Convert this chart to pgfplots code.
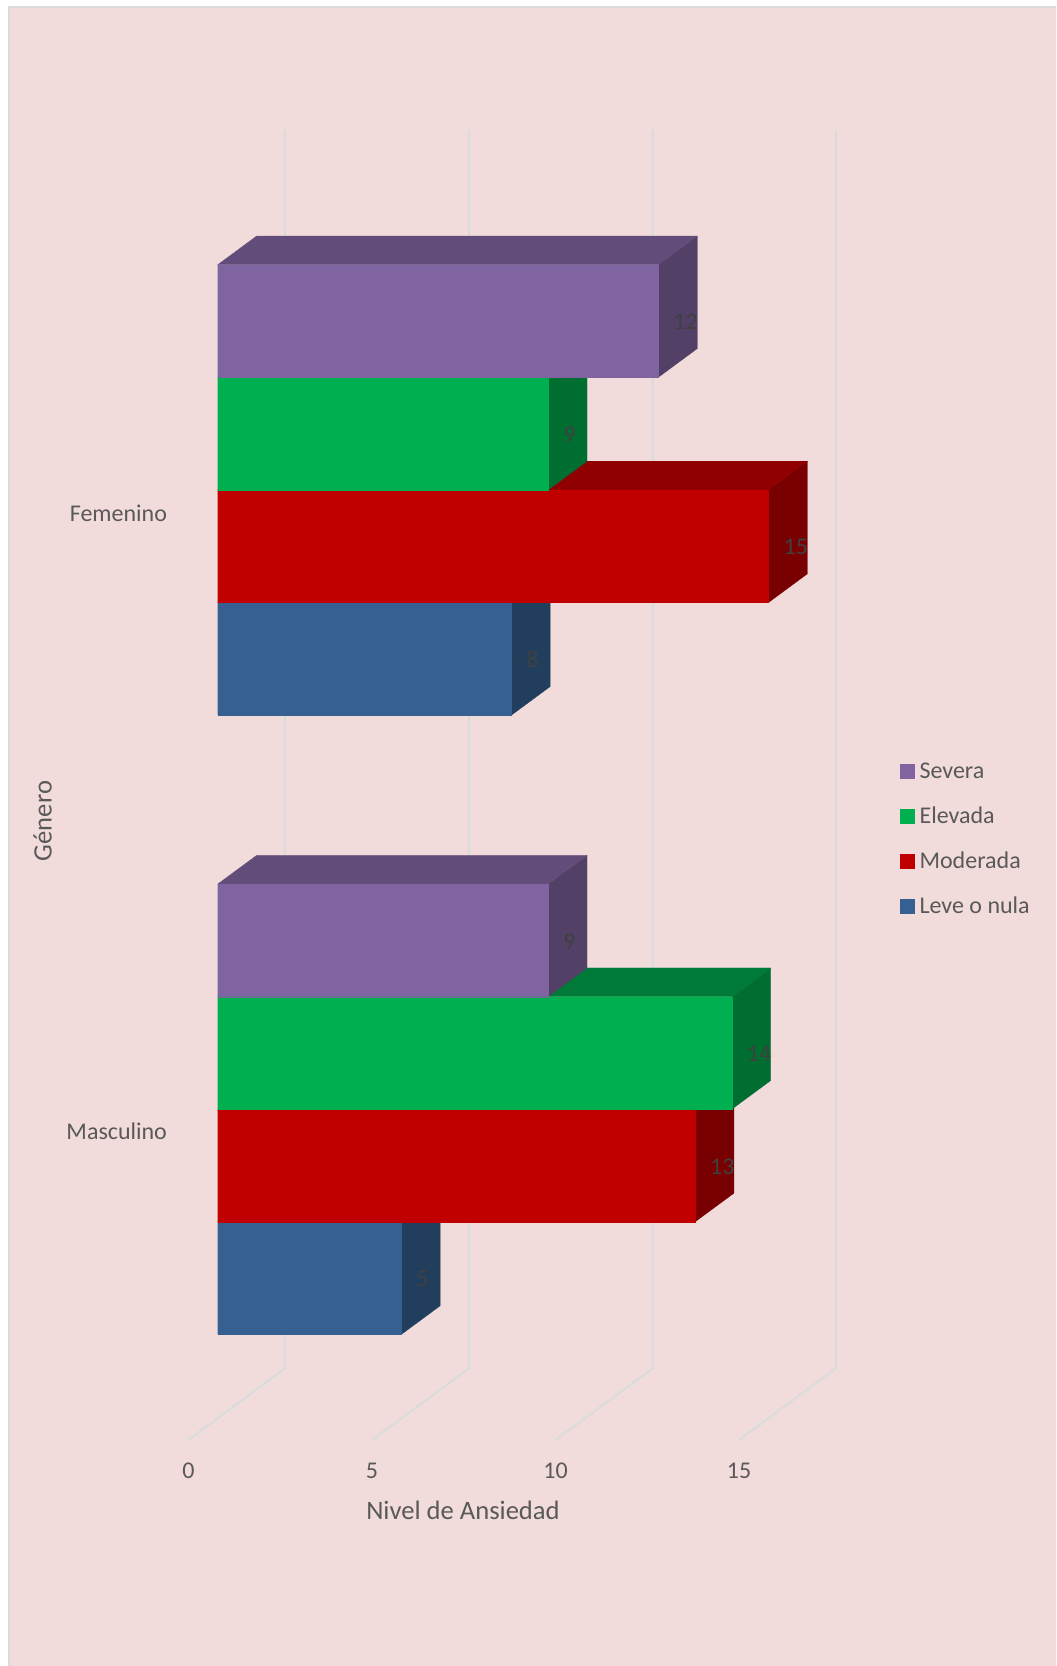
\documentclass[border=0pt]{standalone}
\usepackage{fontspec}
\setmainfont{Carlito}
\usepackage{pgfplots}
\pgfplotsset{compat=1.18}

\definecolor{bgpink}{HTML}{F2DCDB}
\definecolor{gridc}{HTML}{D9DCDC}
\definecolor{txtc}{HTML}{595959}
\definecolor{lblc}{HTML}{404040}
\definecolor{purF}{HTML}{8064A2}
\definecolor{purS}{HTML}{524067}
\definecolor{purT}{HTML}{624C7A}
\definecolor{greF}{HTML}{00B050}
\definecolor{greS}{HTML}{006E30}
\definecolor{greT}{HTML}{007A38}
\definecolor{redF}{HTML}{C00000}
\definecolor{redS}{HTML}{790000}
\definecolor{redT}{HTML}{900000}
\definecolor{bluF}{HTML}{366092}
\definecolor{bluS}{HTML}{223E5D}
\definecolor{bluT}{HTML}{29496F}

\pgfplotsset{
  face/.style={fill=#1,draw=#1,line width=0.1pt,forget plot},
  gline/.style={color=gridc,line width=1.1pt,forget plot},
  front/.style={xbar,bar shift=0pt,bar width=1,fill=#1,draw=#1,line width=0.1pt,
    legend image code/.code={\fill[#1] (0pt,-2.2pt) rectangle (7pt,4.8pt);},
    nodes near coords,
    every node near coord/.append style={anchor=west,inner sep=0pt,xshift=7.5pt,yshift=-0.5pt,
      text=lblc,font=\fontsize{12}{14}\selectfont}},
}

\begin{document}
\begin{tikzpicture}
\begin{axis}[
  scale only axis,
  width=528pt,height=833pt,
  xmin=-5.929,xmax=22.83,
  ymin=-2.944,ymax=11.851,
  axis on top,
  axis background/.style={fill=white},
  axis line style={draw=none},
  major tick length=0pt,
  tick style={draw=none},
  /pgf/number format/assume math mode=true,
  xtick={-0.8,4.2,9.2,14.2},
  xticklabels={0,5,10,15},
  ytick={1.803,7.296},
  yticklabels={Masculino,Femenino},
  ticklabel style={font=\fontsize{12}{14}\selectfont,text=txtc},
  x tick label style={anchor=center,yshift=97.5pt},
  y tick label style={anchor=east,xshift=87pt},
  xlabel={Nivel de Ansiedad},
  ylabel={Género},
  xlabel style={at={(axis cs:6.68,-1.559)},anchor=center,text=txtc,font=\fontsize{13.3}{16}\selectfont},
  ylabel style={at={(axis cs:-4.77,4.56)},anchor=center,text=txtc,font=\fontsize{13.3}{16}\selectfont},
  reverse legend,
  legend style={at={(axis cs:18.58,5.08)},anchor=north west,draw=none,fill=none,inner sep=0pt,
    row sep=12pt,font=\fontsize{12}{14}\selectfont,text=txtc,
    nodes={inner sep=0pt,text height=8pt,text depth=2.5pt},
    /tikz/column 1/.style={column sep=2.5pt}},
  legend cell align=left,
]
% chart area
\fill[bgpink,draw=gridc,line width=0.8pt] (rel axis cs:0.0085,0.9958) rectangle (rel axis cs:1.01,-0.01);

% gridlines: floor and back wall
\addplot[gline] coordinates {(-0.80,-0.937)(1.833,-0.300)(1.833,10.70)};
\addplot[gline] coordinates {(4.20,-0.937)(6.85,-0.300)(6.85,10.70)};
\addplot[gline] coordinates {(9.20,-0.937)(11.85,-0.300)(11.85,10.70)};
\addplot[gline] coordinates {(14.20,-0.937)(16.833,-0.300)(16.833,10.70)};

% Leve o nula
\addplot[face=bluS] coordinates {(5,0)(6.06,0.255)(6.06,1.255)(5,1)} --cycle;
\addplot[face=bluT] coordinates {(0,1)(5,1)(6.06,1.255)(1.06,1.255)} --cycle;
\addplot[face=bluS] coordinates {(8,5.5)(9.06,5.755)(9.06,6.755)(8,6.5)} --cycle;
\addplot[face=bluT] coordinates {(0,6.5)(8,6.5)(9.06,6.755)(1.06,6.755)} --cycle;
\addplot[front=bluF] coordinates {(5,0.5)(8,6)};
\addlegendentry{Leve o nula}

% Moderada
\addplot[face=redS] coordinates {(13,1)(14.06,1.255)(14.06,2.255)(13,2)} --cycle;
\addplot[face=redT] coordinates {(0,2)(13,2)(14.06,2.255)(1.06,2.255)} --cycle;
\addplot[face=redS] coordinates {(15,6.5)(16.06,6.755)(16.06,7.755)(15,7.5)} --cycle;
\addplot[face=redT] coordinates {(0,7.5)(15,7.5)(16.06,7.755)(1.06,7.755)} --cycle;
\addplot[front=redF] coordinates {(13,1.5)(15,7)};
\addlegendentry{Moderada}

% Elevada
\addplot[face=greS] coordinates {(14,2)(15.06,2.255)(15.06,3.255)(14,3)} --cycle;
\addplot[face=greT] coordinates {(0,3)(14,3)(15.06,3.255)(1.06,3.255)} --cycle;
\addplot[face=greS] coordinates {(9,7.5)(10.06,7.755)(10.06,8.755)(9,8.5)} --cycle;
\addplot[face=greT] coordinates {(0,8.5)(9,8.5)(10.06,8.755)(1.06,8.755)} --cycle;
\addplot[front=greF] coordinates {(14,2.5)(9,8)};
\addlegendentry{Elevada}

% Severa
\addplot[face=purS] coordinates {(9,3)(10.06,3.255)(10.06,4.255)(9,4)} --cycle;
\addplot[face=purT] coordinates {(0,4)(9,4)(10.06,4.255)(1.06,4.255)} --cycle;
\addplot[face=purS] coordinates {(12,8.5)(13.06,8.755)(13.06,9.755)(12,9.5)} --cycle;
\addplot[face=purT] coordinates {(0,9.5)(12,9.5)(13.06,9.755)(1.06,9.755)} --cycle;
\addplot[front=purF] coordinates {(9,3.5)(12,9)};
\addlegendentry{Severa}
\end{axis}
\end{tikzpicture}
\end{document}
